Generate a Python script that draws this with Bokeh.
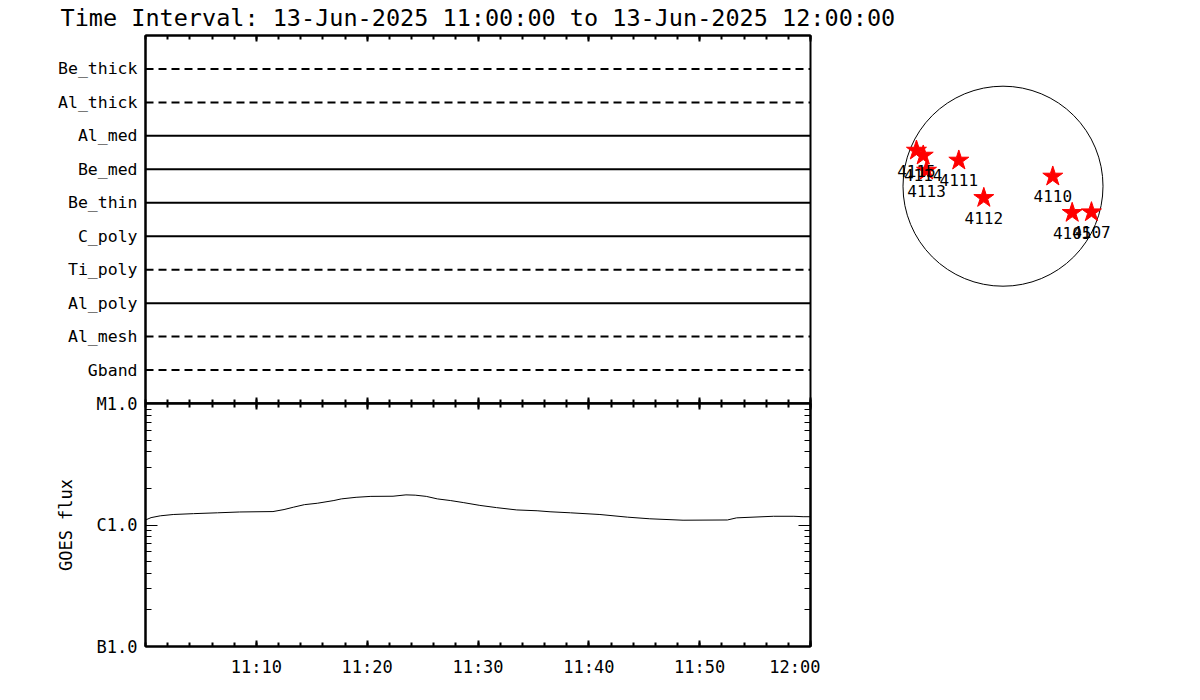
import pandas as pd
from bokeh.plotting import figure
from bokeh.layouts import column, row
from bokeh.models import (Range1d, FixedTicker, DatetimeAxis, LogAxis,
                          DatetimeTickFormatter, CustomJSTickFormatter, ColumnDataSource)
from bokeh.core.properties import value
from bokeh.embed import file_html
from bokeh.resources import INLINE

# ---------------- data ----------------
title_text = "Time Interval: 13-Jun-2025 11:00:00 to 13-Jun-2025 12:00:00"
t_start = "2025-06-13 11:00:00"
t_end = "2025-06-13 12:00:00"

# bottom to top
filter_names = ["Gband", "Al_mesh", "Al_poly", "Ti_poly", "C_poly",
                "Be_thin", "Be_med", "Al_med", "Al_thick", "Be_thick"]
filter_dashed = [True, True, False, True, False,
                 False, False, False, True, True]

goes_times = ["11:00:00", "11:00:30", "11:01:20", "11:02:30", "11:04:20", "11:06:30",
              "11:08:30", "11:11:30", "11:12:30", "11:13:20", "11:14:20", "11:15:30",
              "11:17:00", "11:17:40", "11:19:00", "11:20:20", "11:22:20", "11:23:30",
              "11:24:20", "11:25:20", "11:26:20", "11:27:30", "11:28:40", "11:30:10",
              "11:31:40", "11:33:30", "11:35:20", "11:36:30", "11:38:20", "11:41:00",
              "11:43:30", "11:45:30", "11:48:30", "11:52:30", "11:53:20", "11:56:40",
              "11:58:30", "11:59:20", "12:00:00"]
goes_flux = [1.10e-6, 1.15e-6, 1.19e-6, 1.22e-6, 1.24e-6, 1.26e-6,
             1.28e-6, 1.29e-6, 1.34e-6, 1.40e-6, 1.47e-6, 1.51e-6,
             1.59e-6, 1.64e-6, 1.69e-6, 1.72e-6, 1.725e-6, 1.77e-6,
             1.76e-6, 1.72e-6, 1.64e-6, 1.59e-6, 1.53e-6, 1.45e-6,
             1.39e-6, 1.33e-6, 1.31e-6, 1.285e-6, 1.26e-6, 1.22e-6,
             1.16e-6, 1.125e-6, 1.095e-6, 1.10e-6, 1.145e-6, 1.18e-6,
             1.18e-6, 1.17e-6, 1.17e-6]
goes_class_labels = ["B1.0", "C1.0", "M1.0"]
goes_class_levels = [1e-7, 1e-6, 1e-5]

ar_numbers = ["4115", "4114", "4113", "4111", "4112", "4110", "4105", "4107"]
ar_x = [-817, -753, -722, -417, -181, 470, 653, 835]
ar_y = [337, 290, 148, 243, -110, 92, -251, -245]
sun_radius_arcsec = 944

# ---------------- styling ----------------
FONT = "DejaVu Sans Mono"
t0 = pd.Timestamp(t_start)
t1 = pd.Timestamp(t_end)
xr = Range1d(t0, t1)


def ms(ts):
    return ts.value / 1e6


major_x = [ms(t0 + pd.Timedelta(minutes=10 * k)) for k in range(1, 7)]
minor_x = [ms(t0 + pd.Timedelta(minutes=2 * k)) for k in range(0, 31)]
fmt = DatetimeTickFormatter(seconds="%H:%M", minsec="%H:%M", minutes="%H:%M",
                            hourmin="%H:%M", hours="%H:%M", days="%H:%M")


def hide_labels(ax):
    ax.formatter = CustomJSTickFormatter(code='return "";')
    ax.major_label_text_font_size = "1px"
    ax.major_label_text_color = None
    ax.major_label_standoff = 0


def style_x(ax, labels):
    ax.ticker = FixedTicker(ticks=major_x, minor_ticks=minor_x)
    ax.axis_line_width = 2
    ax.axis_line_color = "black"
    ax.major_tick_in = 6
    ax.major_tick_out = 0
    ax.minor_tick_in = 4
    ax.minor_tick_out = 0
    ax.major_tick_line_width = 2
    ax.minor_tick_line_width = 2
    ax.major_tick_line_color = "black"
    ax.minor_tick_line_color = "black"
    if labels:
        ax.formatter = fmt
        ax.major_label_text_font = FONT
        ax.major_label_text_font_size = "17px"
        ax.major_label_text_color = "black"
        ax.major_label_standoff = 10
    else:
        hide_labels(ax)


def base(p):
    p.xgrid.visible = False
    p.ygrid.visible = False
    p.outline_line_color = "black"
    p.outline_line_width = 2


# ---------------- title strip ----------------
pT = figure(x_range=Range1d(0, 1190), y_range=Range1d(0, 32),
            width=1190, height=32, min_border=0,
            x_axis_type=None, y_axis_type=None,
            toolbar_location=None, output_backend="svg")
pT.outline_line_color = None
pT.text(x=[60], y=[15], text=[title_text], text_font=value(FONT),
        text_font_size="23.5px", text_color="black",
        text_align="left", text_baseline="middle")

# ---------------- filter panel ----------------
n = len(filter_names)
pA = figure(x_axis_type="datetime", x_range=xr, y_range=Range1d(0, n + 1),
            frame_width=665, frame_height=368,
            min_border_left=145, min_border_right=10,
            min_border_top=3, min_border_bottom=3,
            toolbar_location=None, output_backend="svg")
base(pA)
style_x(pA.xaxis[0], False)
topA = DatetimeAxis()
style_x(topA, False)
pA.add_layout(topA, "above")

ya = pA.yaxis[0]
ya.ticker = FixedTicker(ticks=list(range(1, n + 1)), minor_ticks=[])
ya.major_label_overrides = {i + 1: name for i, name in enumerate(filter_names)}
ya.major_tick_in = 0
ya.major_tick_out = 0
ya.minor_tick_in = 0
ya.minor_tick_out = 0
ya.axis_line_width = 2
ya.major_label_text_font = FONT
ya.major_label_text_font_size = "16.5px"
ya.major_label_text_color = "black"
ya.major_label_standoff = 8

solid_idx = [i for i in range(n) if not filter_dashed[i]]
dash_idx = [i for i in range(n) if filter_dashed[i]]
for idx, dash in ((solid_idx, "solid"), (dash_idx, "8 5")):
    src = ColumnDataSource(dict(x0=[t0] * len(idx), x1=[t1] * len(idx),
                                y=[i + 1 for i in idx]))
    pA.segment(x0="x0", x1="x1", y0="y", y1="y", source=src,
               line_color="black", line_width=2, line_dash=dash)

# ---------------- GOES panel ----------------
pB = figure(x_axis_type="datetime", y_axis_type="log", x_range=xr,
            y_range=Range1d(goes_class_levels[0], goes_class_levels[-1]),
            frame_width=665, frame_height=243,
            min_border_left=145, min_border_right=10,
            min_border_top=12, min_border_bottom=30,
            margin=(-15, 0, 0, 0), border_fill_color=None,
            toolbar_location=None, output_backend="svg")
base(pB)
style_x(pB.xaxis[0], True)
topB = DatetimeAxis()
style_x(topB, False)
pB.add_layout(topB, "above")

minor_y = []
for lv in goes_class_levels[:-1]:
    minor_y += [lv * m for m in range(2, 10)]
yfmt = CustomJSTickFormatter(args=dict(levels=goes_class_levels, labels=goes_class_labels),
                             code="""
for (let i = 0; i < levels.length; i++) {
  if (Math.abs(Math.log10(tick) - Math.log10(levels[i])) < 1e-6) return labels[i];
}
return "";
""")


def style_y(ax, labels):
    ax.ticker = FixedTicker(ticks=goes_class_levels, minor_ticks=minor_y)
    ax.axis_line_width = 2
    ax.major_tick_in = 12
    ax.major_tick_out = 0
    ax.minor_tick_in = 6
    ax.minor_tick_out = 0
    ax.major_tick_line_color = "black"
    ax.minor_tick_line_color = "black"
    if labels:
        ax.formatter = yfmt
        ax.major_label_text_font = FONT
        ax.major_label_text_font_size = "17px"
        ax.major_label_text_color = "black"
        ax.major_label_standoff = 8
    else:
        hide_labels(ax)


yb = pB.yaxis[0]
style_y(yb, True)
yb.axis_label = "GOES flux"
yb.axis_label_text_font = FONT
yb.axis_label_text_font_size = "17px"
yb.axis_label_text_font_style = "normal"
yb.axis_label_text_color = "black"
yb.axis_label_standoff = 18
rightB = LogAxis()
style_y(rightB, False)
pB.add_layout(rightB, "right")

goes_dt = [pd.Timestamp("2025-06-13 " + t) for t in goes_times]
pB.line(x=goes_dt, y=goes_flux, line_color="black", line_width=1)

# ---------------- solar disk ----------------
scale = sun_radius_arcsec / 100.0  # arcsec per pixel
cx_px, cy_px = 172.5, 217.3
pC = figure(x_range=Range1d(-cx_px * scale, (350 - cx_px) * scale),
            y_range=Range1d(-cy_px * scale, (368 - cy_px) * scale),
            width=360, height=374,
            min_border_left=10, min_border_right=0,
            min_border_top=3, min_border_bottom=3,
            x_axis_type=None, y_axis_type=None,
            toolbar_location=None, output_backend="svg")
pC.outline_line_color = None
pC.circle(x=[0], y=[0], radius=sun_radius_arcsec, fill_color=None,
          line_color="black", line_width=1)
pC.scatter(x=ar_x, y=ar_y, marker="star", size=21,
           fill_color="red", line_color="red")
pC.text(x=ar_x, y=ar_y, text=ar_numbers, y_offset=20,
        text_font=value(FONT), text_font_size="16px", text_color="black",
        text_align="center", text_baseline="middle")

layout = column(pT, row(column(pA, pB), pC))
open("out.html", "w").write(file_html(layout, INLINE))
